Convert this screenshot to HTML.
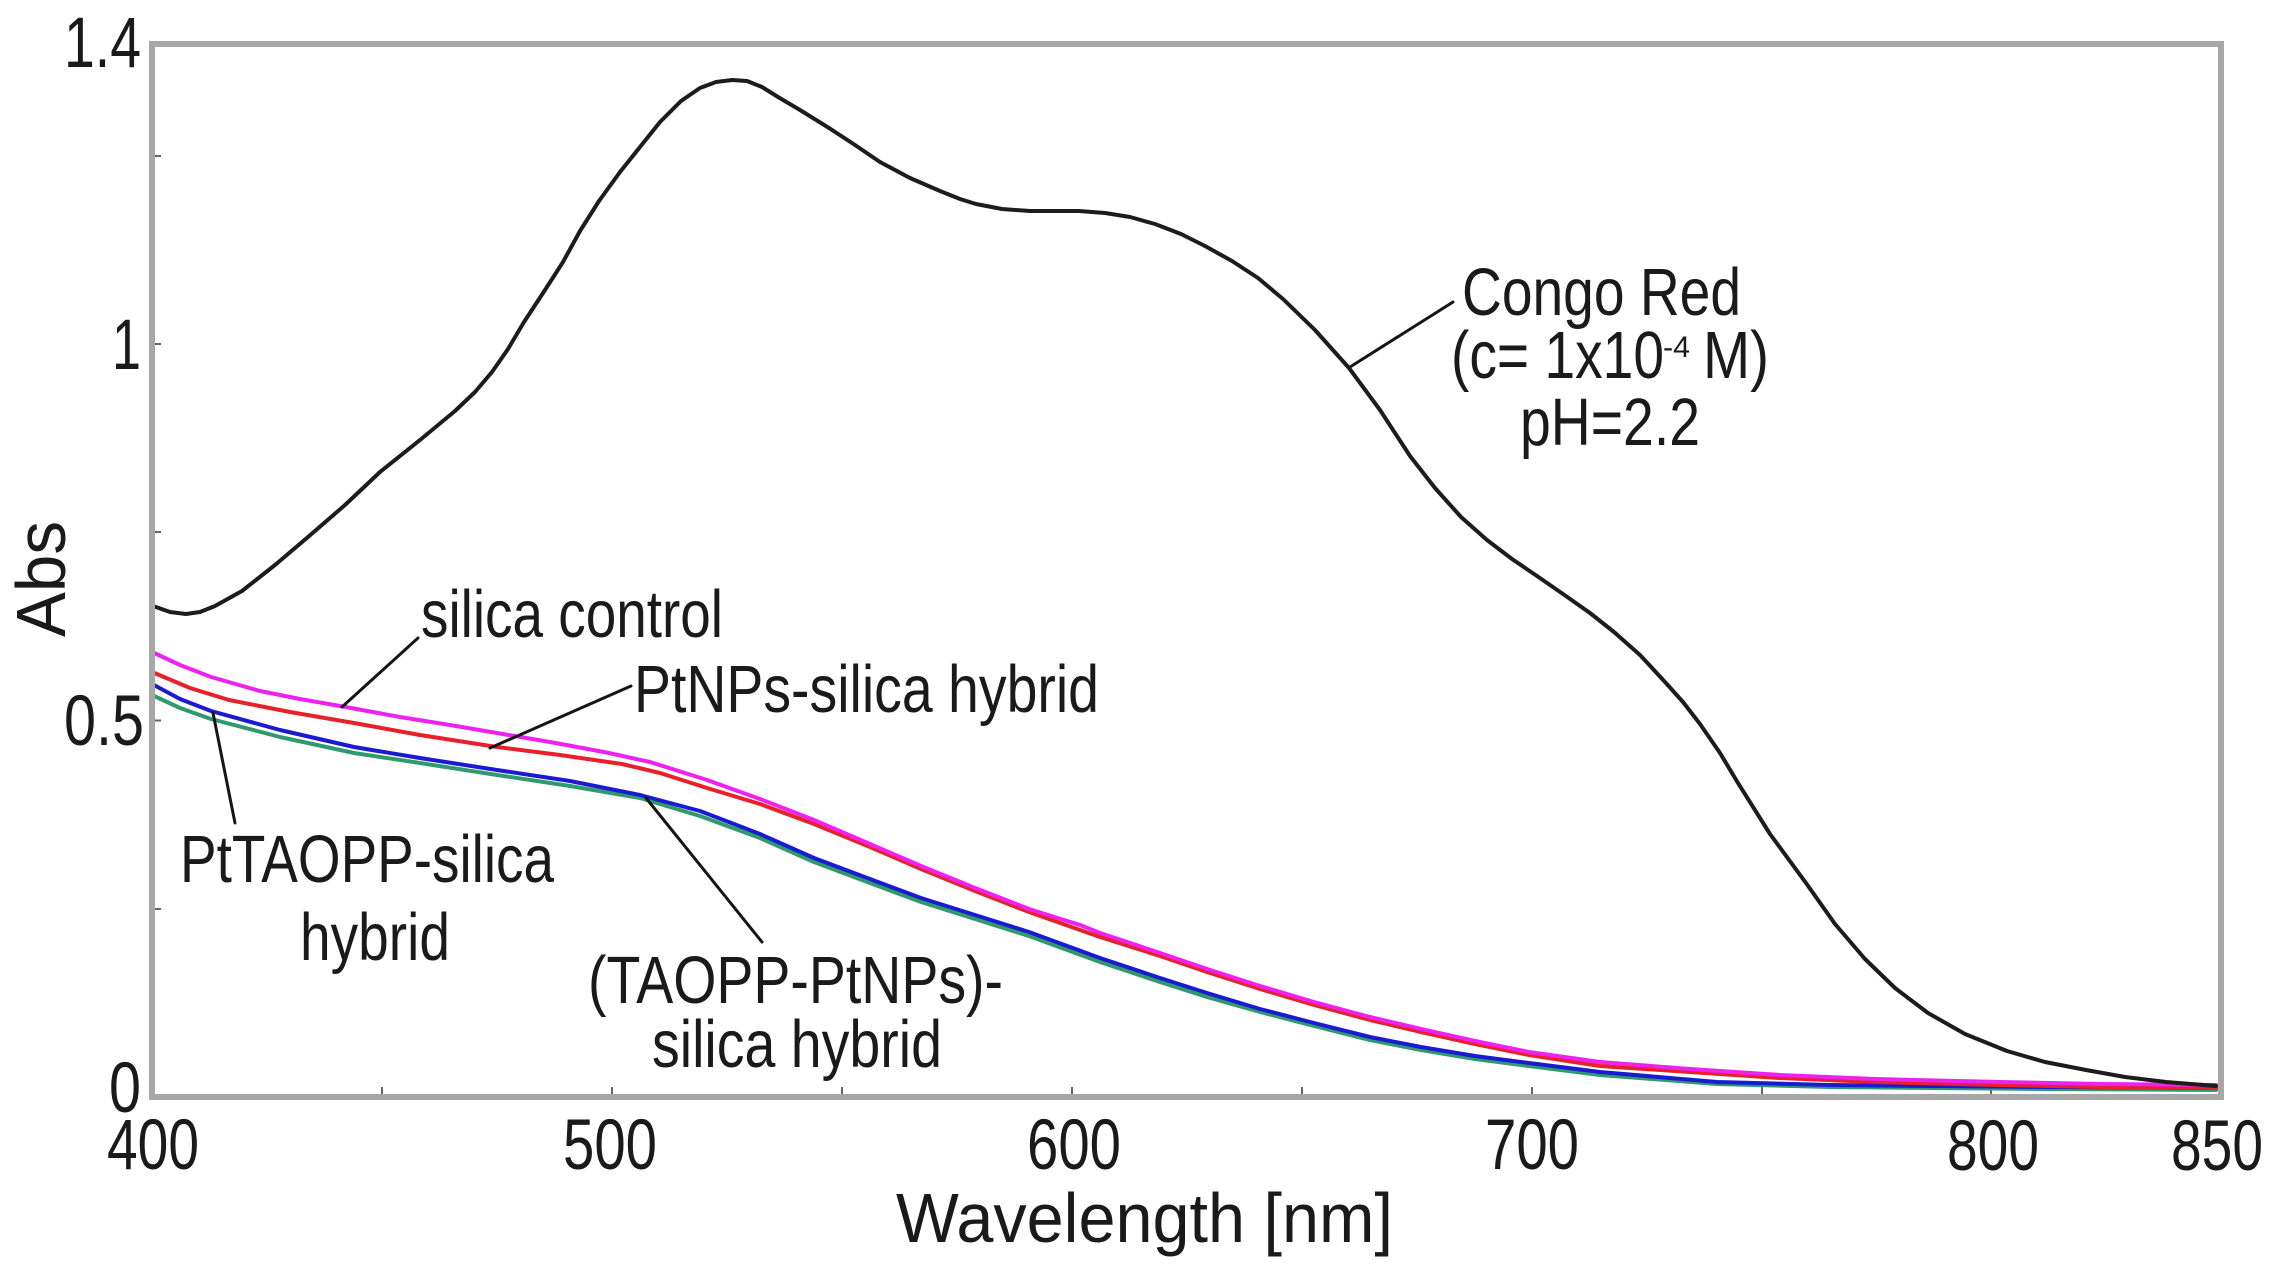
<!DOCTYPE html>
<html>
<head>
<meta charset="utf-8">
<style>
  html,body{margin:0;padding:0;background:#fff;}
  svg{display:block;}
  text{font-family:"Liberation Sans", Arial, sans-serif; fill:#1a1a1a;}
</style>
</head>
<body>
<svg width="2269" height="1268" viewBox="0 0 2269 1268" xmlns="http://www.w3.org/2000/svg">
  <rect x="0" y="0" width="2269" height="1268" fill="#fff"/>

  <!-- ticks -->
  <g stroke="#666" stroke-width="2">
    <line x1="152" y1="909" x2="161" y2="909"/>
    <line x1="152" y1="720.5" x2="161" y2="720.5"/>
    <line x1="152" y1="532" x2="161" y2="532"/>
    <line x1="152" y1="344" x2="161" y2="344"/>
    <line x1="152" y1="156" x2="161" y2="156"/>
    <line x1="382" y1="1097" x2="382" y2="1087"/>
    <line x1="612" y1="1097" x2="612" y2="1087"/>
    <line x1="842" y1="1097" x2="842" y2="1087"/>
    <line x1="1072" y1="1097" x2="1072" y2="1087"/>
    <line x1="1302" y1="1097" x2="1302" y2="1087"/>
    <line x1="1532" y1="1097" x2="1532" y2="1087"/>
    <line x1="1762" y1="1097" x2="1762" y2="1087"/>
    <line x1="1991" y1="1097" x2="1991" y2="1087"/>
  </g>

  <!-- series -->
  <g fill="none" stroke-linejoin="round" stroke-linecap="round" stroke-width="4">
    <polyline stroke="#2e9a6e" points="152,695 180,708 211,719 280,737 354,753 420,763 497,775 570,786 640,798 700,816 760,838 814,862 870,883 921,902 975,919 1029,936 1100,962 1160,982 1207,997 1260,1012 1314,1026 1370,1040 1421,1050 1475,1059 1529,1066 1600,1075 1717,1084 1830,1087 1928,1088 2050,1089 2216,1090"/>
    <polyline stroke="#1a1ad0" points="152,684 180,699 211,711 280,730 354,747 420,758 497,770 570,781 640,795 700,811 760,834 814,858 870,879 921,898 975,915 1029,932 1100,958 1160,978 1207,993 1260,1009 1314,1023 1370,1037 1421,1047 1475,1056 1529,1063 1600,1072 1717,1082 1830,1085 1928,1086 2050,1087 2216,1088"/>
    <polyline stroke="#e8202a" points="152,672 190,688 229,700 290,712 354,723 420,735 497,747 560,755 622,764 660,773 707,788 760,804 814,824 870,847 921,869 975,891 1029,912 1100,937 1160,956 1207,972 1260,989 1314,1005 1370,1020 1421,1032 1475,1044 1529,1055 1600,1066 1690,1072 1780,1078 1875,1082 2000,1085 2100,1087 2216,1088"/>
    <polyline stroke="#ee22ee" points="152,652 180,665 211,677 260,691 300,699 340,706 400,717 450,725 497,733 550,742 604,752 650,762 707,780 760,799 814,820 870,844 921,866 975,888 1029,909 1080,925 1100,933 1160,953 1207,969 1260,986 1314,1002 1370,1017 1421,1029 1475,1041 1529,1052 1600,1062 1690,1069 1780,1075 1875,1079 2000,1082 2100,1084 2216,1085"/>
    <polyline stroke="#1c1c1c" points="153,606 170,612 186,614 200,612 215,606 242,591 275,565 308,537 345,505 380,472 420,440 455,411 475,392 492,372 508,349 524,322 545,290 563,262 580,231 599,201 620,172 640,147 660,122 681,101 700,88 716,82 732,80 747,81 762,87 778,97 800,110 829,128 855,145 880,162 910,178 940,191 960,199 976,204 1002,209 1030,211 1055,211 1079,211 1105,213 1130,217 1155,224 1181,234 1205,246 1232,261 1258,278 1283,299 1315,330 1349,368 1380,410 1410,456 1435,488 1461,517 1487,540 1512,559 1537,576 1563,594 1590,613 1614,632 1640,655 1665,682 1683,702 1700,724 1720,753 1738,783 1770,834 1806,883 1835,924 1865,959 1895,988 1928,1013 1965,1034 2007,1051 2045,1062 2086,1070 2125,1077 2166,1082 2216,1086"/>
  </g>

  <!-- frame -->
  <rect x="152" y="44" width="2069" height="1053" fill="none" stroke="#a8a8a8" stroke-width="6"/>

  <!-- leader lines -->
  <g stroke="#151515" stroke-width="3" stroke-linecap="round">
    <line x1="1453" y1="302" x2="1350" y2="367"/>
    <line x1="418" y1="638" x2="342" y2="707"/>
    <line x1="631" y1="686" x2="490" y2="748"/>
    <line x1="235" y1="823" x2="213" y2="713"/>
    <line x1="762" y1="942" x2="646" y2="798"/>
  </g>

  <!-- y tick labels -->
  <g font-size="71">
    <text x="64" y="67" textLength="77" lengthAdjust="spacingAndGlyphs">1.4</text>
    <text x="112" y="369" textLength="29" lengthAdjust="spacingAndGlyphs">1</text>
    <text x="64" y="745" textLength="80" lengthAdjust="spacingAndGlyphs">0.5</text>
    <text x="109" y="1112" textLength="32" lengthAdjust="spacingAndGlyphs">0</text>
  </g>

  <!-- x tick labels -->
  <g font-size="71" text-anchor="middle">
    <text x="153" y="1169" textLength="92" lengthAdjust="spacingAndGlyphs">400</text>
    <text x="610" y="1169" textLength="94" lengthAdjust="spacingAndGlyphs">500</text>
    <text x="1074" y="1169" textLength="94" lengthAdjust="spacingAndGlyphs">600</text>
    <text x="1532" y="1169" textLength="94" lengthAdjust="spacingAndGlyphs">700</text>
    <text x="1993" y="1170" textLength="92" lengthAdjust="spacingAndGlyphs">800</text>
    <text x="2217" y="1170" textLength="92" lengthAdjust="spacingAndGlyphs">850</text>
  </g>

  <!-- axis titles -->
  <text x="896" y="1242" font-size="70" textLength="497" lengthAdjust="spacingAndGlyphs">Wavelength [nm]</text>
  <text transform="translate(65,579) rotate(-90)" font-size="70" text-anchor="middle" textLength="116" lengthAdjust="spacingAndGlyphs">Abs</text>

  <!-- annotations -->
  <g font-size="67">
    <text x="1462" y="315" textLength="279" lengthAdjust="spacingAndGlyphs">Congo Red</text>
    <text x="1451" y="378" textLength="213" lengthAdjust="spacingAndGlyphs">(c= 1x10</text>
    <text x="1663" y="357" font-size="30" textLength="27" lengthAdjust="spacingAndGlyphs">-4</text>
    <text x="1703" y="378" textLength="66" lengthAdjust="spacingAndGlyphs"> M)</text>
    <text x="1520" y="445" textLength="180" lengthAdjust="spacingAndGlyphs">pH=2.2</text>

    <text x="421" y="637" textLength="302" lengthAdjust="spacingAndGlyphs">silica control</text>
    <text x="634" y="712" textLength="465" lengthAdjust="spacingAndGlyphs">PtNPs-silica hybrid</text>
    <text x="180" y="882" textLength="374" lengthAdjust="spacingAndGlyphs">PtTAOPP-silica</text>
    <text x="300" y="960" textLength="150" lengthAdjust="spacingAndGlyphs">hybrid</text>
    <text x="588" y="1003" textLength="415" lengthAdjust="spacingAndGlyphs">(TAOPP-PtNPs)-</text>
    <text x="652" y="1067" textLength="290" lengthAdjust="spacingAndGlyphs">silica hybrid</text>
  </g>
</svg>
</body>
</html>
